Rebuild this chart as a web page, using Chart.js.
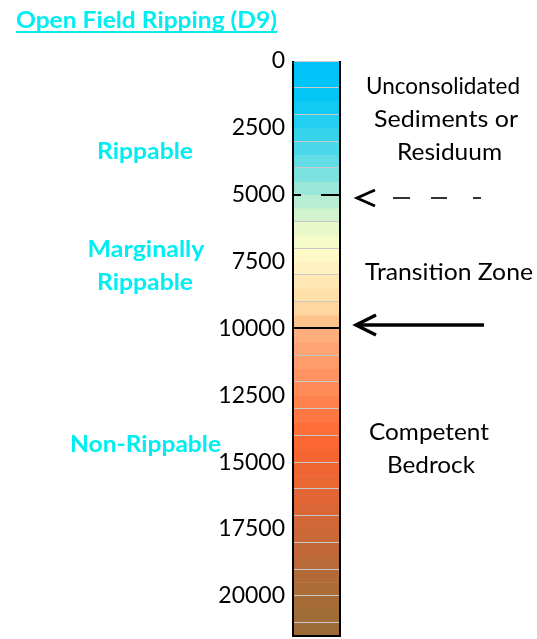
<!DOCTYPE html>
<html><head><meta charset="utf-8">
<script src="https://cdn.jsdelivr.net/npm/chart.js@4/dist/chart.umd.min.js"></script>
<style>html,body{margin:0;padding:0;background:#fff;}#wrap{width:537px;height:639px;position:relative;}</style>
</head><body><div id="wrap"><canvas id="c" width="537" height="639"></canvas></div>
<script>
// ---- data ----
const categories = [''];
const bandHeights = [500,500,500,500,500,500,500,500,500,500,
                     500,500,500,500,500,500,500,500,500,500,
                     500,500,500,500,500,500,500,500,500,500,
                     500,500,500,500,500,500,500,500,500,500,
                     500,500,500];
const bandColors = ['#00C3F9','#00C3F8','#02C7F6','#12CBF3','#22CFF0','#36D3ED','#4AD8EA','#62DCE5','#7CE1DF','#9AE7D9',
                    '#B6EDD3','#D0F3CD','#E8F8C8','#F4FAC8','#FFF9C8','#FFF0C0','#FFE8B4','#FFE0A9','#FFD6A0','#FFC38C',
                    '#FFAE7C','#FFA474','#FF9C6A','#FF9462','#FF8B58','#FF824E','#FF7844','#FF6E38','#FB6834','#F46532',
                    '#EE6432','#EA6632','#E26634','#DA6636','#D26737','#CA6838','#C26838','#BA6A38','#B26B38','#AC6C38',
                    '#A66C38','#A06C38','#9C6B38'];
const tickLabels = [0,2500,5000,7500,10000,12500,15000,17500,20000];
const gridDepths = [0,1000,2000,3000,4000,6000,7000,8000,9000,11000,12000,13000,14000,15000,16000,17000,18000,19000,20000,21000];
const dashedBoundary = 5000;
const solidBoundary = 10000;
const depthMax = 21500;
const titleText = 'Open Field Ripping (D9)';
const leftLabels = ['Rippable','Marginally','Rippable','Non-Rippable'];
const rightLabels = ['Unconsolidated','Sediments or','Residuum','Transition Zone','Competent','Bedrock'];

// ---- layout / style (not data) ----
const FONT = 'Lato, "Open Sans", sans-serif';
const CYAN = '#00EEF2';
// [centerX, baseline, targetWidth]
const leftPos = [[145,159,96],[146,257,117],[145,290,96],[145.5,452,151]];
const rightPos = [[443,94,154],[446,127,144],[449.5,160,105],[449,280,168],[429,440,120],[431,473,88]];

function drawFit(ctx, text, cx, by, w) {
  const m = ctx.measureText(text).width;
  ctx.save();
  ctx.translate(cx, by);
  ctx.scale(w / m, 1);
  ctx.fillText(text, 0, 0);
  ctx.restore();
}

const decor = {
  id: 'decor',
  afterDraw(chart) {
    const ctx = chart.ctx, a = chart.chartArea, y = chart.scales.y;
    ctx.save();
    const y5 = Math.round(y.getPixelForValue(dashedBoundary));
    const y10 = Math.round(y.getPixelForValue(solidBoundary));
    ctx.strokeStyle = '#000';
    ctx.lineWidth = 2;
    ctx.save();
    ctx.beginPath(); ctx.rect(a.left, 0, a.right - a.left, chart.height); ctx.clip();
    ctx.setLineDash([19, 20]);
    ctx.beginPath(); ctx.moveTo(a.right, y5); ctx.lineTo(a.left - 20, y5); ctx.stroke();
    ctx.restore();
    ctx.beginPath(); ctx.moveTo(a.left, y10); ctx.lineTo(a.right, y10); ctx.stroke();
    // frame
    ctx.beginPath();
    ctx.moveTo(a.left, a.top); ctx.lineTo(a.left, a.bottom);
    ctx.lineTo(a.right, a.bottom); ctx.lineTo(a.right, a.top);
    ctx.stroke();
    // dashed arrow
    const ya = y5 + 3;
    ctx.lineWidth = 2.8; ctx.lineCap = 'butt'; ctx.lineJoin = 'miter';
    ctx.beginPath(); ctx.moveTo(375, ya - 8); ctx.lineTo(357, ya); ctx.lineTo(375, ya + 8); ctx.stroke();
    ctx.lineWidth = 1.6;
    [[393,410],[431,447],[473,481]].forEach(s => { ctx.beginPath(); ctx.moveTo(s[0], ya); ctx.lineTo(s[1], ya); ctx.stroke(); });
    // solid arrow
    const yb = y10 - 3;
    ctx.lineWidth = 3.4;
    ctx.beginPath(); ctx.moveTo(359, yb); ctx.lineTo(484, yb); ctx.stroke();
    ctx.beginPath(); ctx.moveTo(376, yb - 10); ctx.lineTo(356, yb); ctx.lineTo(376, yb + 10); ctx.stroke();
    // title
    ctx.fillStyle = CYAN;
    ctx.font = 'bold 22px ' + FONT;
    ctx.textAlign = 'left'; ctx.textBaseline = 'alphabetic';
    const tm = ctx.measureText(titleText).width;
    ctx.save(); ctx.translate(16, 28); ctx.scale(261 / tm, 1); ctx.fillText(titleText, 0, 0); ctx.restore();
    ctx.fillRect(16, 31, 261, 2);
    // left labels
    ctx.textAlign = 'center';
    leftLabels.forEach((t, i) => drawFit(ctx, t, leftPos[i][0], leftPos[i][1], leftPos[i][2]));
    // right labels
    ctx.fillStyle = '#000';
    ctx.font = '23px ' + FONT;
    rightLabels.forEach((t, i) => drawFit(ctx, t, rightPos[i][0], rightPos[i][1], rightPos[i][2]));
    ctx.restore();
  }
};

const tickValues = Array.from(new Set(gridDepths.concat(tickLabels))).sort((p, q) => p - q);

new Chart(document.getElementById('c'), {
  type: 'bar',
  data: {
    labels: categories,
    datasets: bandHeights.map((h, i) => ({
      data: [h], backgroundColor: bandColors[i], borderWidth: 0,
      barPercentage: 1, categoryPercentage: 1
    }))
  },
  options: {
    responsive: false, animation: false, devicePixelRatio: 1,
    layout: { padding: { top: 61, bottom: 3, left: 0, right: 197 } },
    plugins: { legend: { display: false }, tooltip: { enabled: false }, title: { display: false } },
    scales: {
      x: { stacked: true, display: false },
      y: {
        stacked: true, reverse: true, min: 0, max: depthMax,
        afterBuildTicks(s) { s.ticks = tickValues.map(v => ({ value: v })); },
        afterFit(s) { s.width = 293; s.paddingTop = 0; s.paddingBottom = 0; },
        ticks: {
          autoSkip: false, padding: 8, color: '#000',
          font: { family: FONT, size: 23 },
          callback: v => tickLabels.includes(v) ? String(v) : ''
        },
        grid: {
          z: 1, drawTicks: false, lineWidth: 1,
          color: c => (c.tick && gridDepths.includes(c.tick.value)) ? '#C8C8C8' : 'rgba(0,0,0,0)'
        },
        border: { display: false }
      }
    }
  },
  plugins: [decor]
});
</script></body></html>
